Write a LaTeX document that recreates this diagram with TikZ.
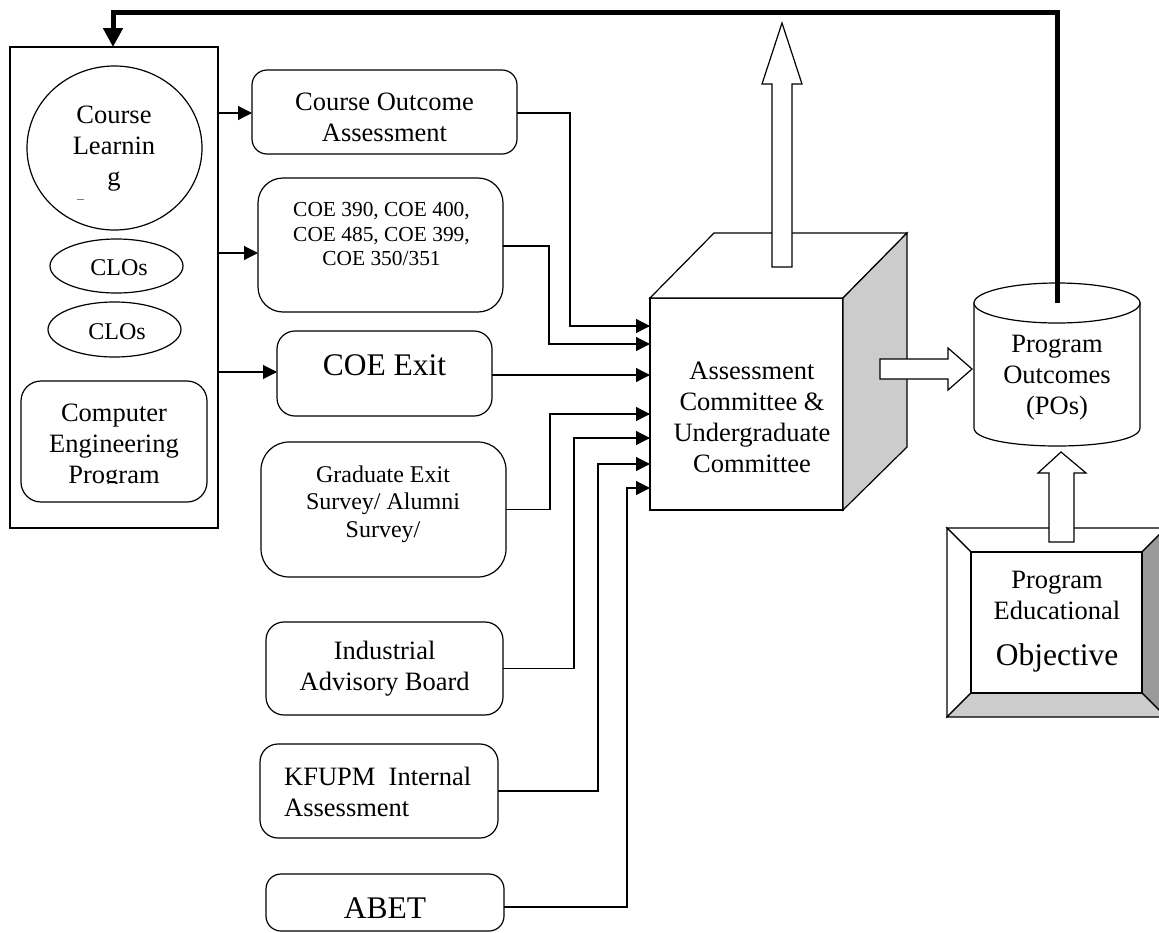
\documentclass[tikz,border=0pt]{standalone}
\usepackage{fontspec}
\setmainfont{Liberation Serif}
\usetikzlibrary{arrows.meta,shapes.geometric}
\definecolor{lightface}{HTML}{CCCCCC}
\definecolor{darkface}{HTML}{999999}
\tikzset{
  ln/.style={line width=1.2pt, line join=miter},
  box/.style={ln, draw, fill=white, inner sep=0pt, outer sep=0pt},
  txt/.style={inner sep=0pt, align=center, font=\fontsize{26.5}{31}\selectfont},
  smalltxt/.style={inner sep=0pt, align=center, font=\fontsize{21.4}{24.5}\selectfont},
  midtxt/.style={inner sep=0pt, align=center, font=\fontsize{24}{27.5}\selectfont},
  bigtxt/.style={inner sep=0pt, align=center, font=\fontsize{31.5}{36}\selectfont},
  arr/.style={ln, -{Triangle[length=14pt,width=14pt]}},
  fatarrow/.style={ln, draw, fill=white},
  feedback/.style={line width=5pt, -{Triangle[length=19pt,width=19pt]}}
}
\begin{document}
\begin{tikzpicture}[x=1pt,y=-1pt]
\useasboundingbox (0,0) rectangle (1159,932);
\clip (0,0) rectangle (1159,932);

% ---------- left container ----------
\node[box, minimum width=208pt, minimum height=481pt] (outer) at (114,287.5) {};
\node[ln, draw, ellipse, fill=white, minimum width=175pt, minimum height=164pt, inner sep=0pt] (clo) at (114.5,148) {};
\node[txt] (clot) at (114,149) {Course\\Learnin\\g};
\draw[line width=1pt, gray] (77,199) -- (84,199);
\node[ln, draw, ellipse, fill=white, minimum width=133pt, minimum height=54pt, inner sep=0pt] (clo1) at (116.5,266) {};
\node[midtxt] (clo1t) at (119,268) {CLOs};
\node[ln, draw, ellipse, fill=white, minimum width=133pt, minimum height=55pt, inner sep=0pt] (clo2) at (114.5,329.5) {};
\node[midtxt] (clo2t) at (117,332) {CLOs};
\node[box, rounded corners=20pt, minimum width=186pt, minimum height=121pt] (cep) at (114,441.5) {};
\begin{scope}
  \clip (21,381) rectangle (207,483);
  \node[txt] (cept) at (114,447) {Computer\\Engineering\\Program};
\end{scope}

% ---------- source boxes ----------
\node[box, rounded corners=15pt, minimum width=265pt, minimum height=84pt] (coa) at (384.5,112) {};
\node[txt] (coat) at (384.5,117) {Course Outcome\\Assessment};

\node[box, rounded corners=25pt, minimum width=245pt, minimum height=134pt] (c390) at (380.5,245) {};
\node[smalltxt] (c390t) at (381.5,234) {COE 390, COE 400,\\COE 485, COE 399,\\COE 350/351};

\node[box, rounded corners=18pt, minimum width=215pt, minimum height=85pt] (exit) at (384.5,373.5) {};
\node[bigtxt] (exitt) at (384.5,365) {COE Exit};

\node[box, rounded corners=28pt, minimum width=245pt, minimum height=135pt] (grad) at (383.5,509.5) {};
\node[midtxt] (gradt) at (383,504) {Graduate Exit\\Survey/ Alumni\\Survey/};

\node[box, rounded corners=18pt, minimum width=237pt, minimum height=93pt] (ind) at (384.5,668.5) {};
\node[txt] (indt) at (384.7,669) {Industrial\\Advisory Board};

\node[box, rounded corners=18pt, minimum width=238pt, minimum height=94pt] (kf) at (379,791) {};
\node[txt, align=left, anchor=west] (kft) at (284,792) {KFUPM\ \ Internal\\Assessment};

\node[box, rounded corners=15pt, minimum width=238pt, minimum height=57pt] (abet) at (385,902.5) {};
\node[bigtxt] (abett) at (385,908) {ABET};

% ---------- arrows from container ----------
\draw[arr] ([yshift=-1pt]outer.east |- coa.west) -- ([yshift=-1pt]coa.west);
\coordinate (o2) at (218,253);
\draw[arr] (o2) -- (c390.west |- o2);
\coordinate (o3) at (218,372);
\draw[arr] (o3) -- (exit.west |- o3);

% ---------- cube ----------
\node[box, minimum width=193pt, minimum height=212pt] (cube) at (746.5,404) {};
\draw[ln, fill=white] (cube.north west) -- (714,233) -- (907,233) -- (cube.north east) -- cycle;
\draw[ln, fill=lightface] (cube.north east) -- (907,233) -- (907,447) -- (cube.south east) -- cycle;
\node[txt] (cubet) at (752,417) {Assessment\\Committee \&\\Undergraduate\\Committee};

% arrows into cube
\coordinate (in1) at (650,326);
\coordinate (in2) at (650,344);
\coordinate (in3) at (650,375);
\coordinate (in4) at (650,414);
\coordinate (in5) at (650,438);
\coordinate (in6) at (650,464);
\coordinate (in7) at (650,488);
\draw[arr] ([yshift=-1pt]coa.east) -- ++(53,0) |- (in1);
\draw[arr] ([yshift=-1pt]c390.east) -- ++(46,0) |- (in2);
\draw[arr] (exit.east |- in3) -- (in3);
\draw[arr] (grad.east) -- ++(44,0) |- (in4);
\draw[arr] (ind.east) -- ++(71,0) |- (in5);
\draw[arr] (kf.east) -- ++(100,0) |- (in6);
\draw[arr] ([yshift=-4.5pt]abet.east) -- ++(123,0) |- (in7);

% up fat arrow from cube
\draw[fatarrow] (772,267) -- (772,84) -- (762,84) -- (782,23) -- (802,84) -- (792,84) -- (792,267) -- cycle;

% ---------- cylinder ----------
\draw[ln, fill=white] (974,303) -- (974,428) .. controls (974,452) and (1140,452) .. (1140,428) -- (1140,303) -- cycle;
\draw[ln, fill=white] (1057,303) ellipse [x radius=83, y radius=20];
\coordinate (cyltop) at (1057,303);
\node[txt] (cylt) at (1057,378) {Program\\Outcomes\\(POs)};

% fat arrow cube -> cylinder
\draw[fatarrow] (880,359) -- (948,359) -- (948,348) -- (972,369) -- (948,390) -- (948,379) -- (880,379) -- cycle;

% ---------- bevel box ----------
\draw[ln, fill=white] (947,528) -- (1166,528) -- (1142,552) -- (971,552) -- cycle;
\draw[ln, fill=white] (947,528) -- (971,552) -- (971,693) -- (947,717) -- cycle;
\draw[ln, fill=darkface] (1166,528) -- (1166,717) -- (1142,693) -- (1142,552) -- cycle;
\draw[ln, fill=lightface] (947,717) -- (971,693) -- (1142,693) -- (1166,717) -- cycle;
\node[box, minimum width=171pt, minimum height=141pt] (peo) at (1056.5,622.5) {};
\node[txt] (peot) at (1057,595) {Program\\Educational};
\node[bigtxt] (peot2) at (1057,658) {Objective};

% fat arrow bevel -> cylinder
\draw[fatarrow] (1049,542) -- (1049,473) -- (1038,473) -- (1061,452) -- (1086,473) -- (1074,473) -- (1074,542) -- cycle;

% ---------- feedback loop ----------
\coordinate (fbr) at (1057,12);
\coordinate (fbl) at (113,12);
\draw[feedback] (cyltop) -- (fbr) -- (fbl) -- (fbl |- outer.north);
\end{tikzpicture}
\end{document}
